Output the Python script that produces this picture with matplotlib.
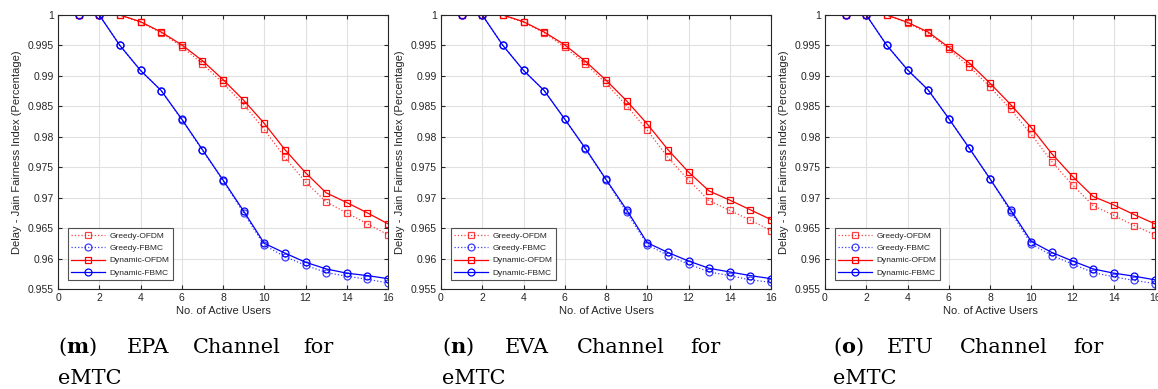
import matplotlib
matplotlib.use("Agg")
import matplotlib.pyplot as plt
import numpy as np

plt.rcParams['mathtext.fontset'] = 'dejavuserif'

users = list(range(1, 17))
series_names = ["Greedy-OFDM", "Greedy-FBMC", "Dynamic-OFDM", "Dynamic-FBMC"]

# EPA channel
epa_greedy_ofdm = [1, 1, 1, 0.9988, 0.9971, 0.9948, 0.9920, 0.9888, 0.9853, 0.9812, 0.9766, 0.9726, 0.9693, 0.9675, 0.9657, 0.9639]
epa_greedy_fbmc = [1, 1, 0.9950, 0.9909, 0.9876, 0.9828, 0.9778, 0.9728, 0.9675, 0.9622, 0.9603, 0.9589, 0.9577, 0.9571, 0.9566, 0.9560]
epa_dynamic_ofdm = [1, 1, 1, 0.9989, 0.9972, 0.9951, 0.9925, 0.9894, 0.9860, 0.9822, 0.9779, 0.9741, 0.9708, 0.9692, 0.9675, 0.9657]
epa_dynamic_fbmc = [1, 1, 0.9950, 0.9909, 0.9876, 0.9829, 0.9779, 0.9729, 0.9678, 0.9625, 0.9609, 0.9594, 0.9583, 0.9576, 0.9572, 0.9567]

# EVA channel
eva_greedy_ofdm = [1, 1, 1, 0.9988, 0.9971, 0.9947, 0.9920, 0.9888, 0.9851, 0.9811, 0.9766, 0.9729, 0.9695, 0.9679, 0.9663, 0.9646]
eva_greedy_fbmc = [1, 1, 0.9950, 0.9909, 0.9876, 0.9829, 0.9780, 0.9729, 0.9676, 0.9623, 0.9605, 0.9591, 0.9578, 0.9572, 0.9565, 0.9561]
eva_dynamic_ofdm = [1, 1, 1, 0.9989, 0.9972, 0.9951, 0.9924, 0.9893, 0.9859, 0.9821, 0.9779, 0.9742, 0.9711, 0.9696, 0.9680, 0.9664]
eva_dynamic_fbmc = [1, 1, 0.9950, 0.9909, 0.9876, 0.9829, 0.9781, 0.9730, 0.9680, 0.9626, 0.9610, 0.9596, 0.9584, 0.9578, 0.9572, 0.9567]

# ETU channel
etu_greedy_ofdm = [1, 1, 1, 0.9987, 0.9970, 0.9944, 0.9915, 0.9882, 0.9845, 0.9804, 0.9759, 0.9721, 0.9687, 0.9671, 0.9654, 0.9639]
etu_greedy_fbmc = [1, 1, 0.9950, 0.9910, 0.9877, 0.9830, 0.9781, 0.9731, 0.9677, 0.9624, 0.9605, 0.9591, 0.9577, 0.9570, 0.9564, 0.9559]
etu_dynamic_ofdm = [1, 1, 1, 0.9988, 0.9972, 0.9947, 0.9921, 0.9888, 0.9853, 0.9815, 0.9772, 0.9735, 0.9702, 0.9688, 0.9672, 0.9657]
etu_dynamic_fbmc = [1, 1, 0.9950, 0.9910, 0.9877, 0.9830, 0.9781, 0.9731, 0.9680, 0.9628, 0.9610, 0.9596, 0.9583, 0.9576, 0.9571, 0.9565]

x_ticks = [0, 2, 4, 6, 8, 10, 12, 14, 16]
y_ticks = [0.955, 0.96, 0.965, 0.97, 0.975, 0.98, 0.985, 0.99, 0.995, 1.0]
y_tick_labels = ["0.955", "0.96", "0.965", "0.97", "0.975", "0.98", "0.985", "0.99", "0.995", "1"]

x_label = "No. of Active Users"
y_label = "Delay - Jain Fairness Index (Percentage)"

caption_letters = ["m", "n", "o"]
caption_channels = ["EPA", "EVA", "ETU"]

panels = [
    (epa_greedy_ofdm, epa_greedy_fbmc, epa_dynamic_ofdm, epa_dynamic_fbmc),
    (eva_greedy_ofdm, eva_greedy_fbmc, eva_dynamic_ofdm, eva_dynamic_fbmc),
    (etu_greedy_ofdm, etu_greedy_fbmc, etu_dynamic_ofdm, etu_dynamic_fbmc),
]

W, H = 1158, 389
fig = plt.figure(figsize=(W / 100, H / 100), dpi=100)

ax_left_px = [58, 441, 825]
ax_width_px = 330
ax_top_px, ax_bot_px = 15, 289

# caption word x-positions (pixels)
cap_x = [
    [58, 127, 193, 303],
    [442, 505, 577, 690],
    [833, 887, 960, 1073],
]

txt_col = "#262626"
sans = "Liberation Sans"

styles = [
    dict(color="#ff0000", ls=":", marker="s", ms=4.0),
    dict(color="#0000ff", ls=":", marker="o", ms=5.0),
    dict(color="#ff0000", ls="-", marker="s", ms=4.0),
    dict(color="#0000ff", ls="-", marker="o", ms=5.0),
]

for i, data in enumerate(panels):
    ax = fig.add_axes([ax_left_px[i] / W, 1 - ax_bot_px / H,
                       ax_width_px / W, (ax_bot_px - ax_top_px) / H])
    for name, ys, st in zip(series_names, data, styles):
        ax.plot(users, ys, color=st["color"], linestyle=st["ls"], linewidth=0.9,
                marker=st["marker"], markersize=st["ms"], markerfacecolor="none",
                markeredgecolor=st["color"], markeredgewidth=0.9, label=name,
                alpha=0.75 if st["ls"] == ":" else 1.0)
    ax.set_xlim(0, 16)
    ax.set_ylim(0.955, 1.0)
    ax.set_xticks(x_ticks)
    ax.set_xticklabels([str(t) for t in x_ticks])
    ax.set_yticks(y_ticks)
    ax.set_yticklabels(y_tick_labels)
    ax.grid(True, color="#e0e0e0", linewidth=0.8)
    ax.set_axisbelow(True)
    ax.tick_params(direction="in", length=3, width=0.8, colors=txt_col,
                   labelsize=7.5, top=True, right=True, pad=3)
    for lab in ax.get_xticklabels() + ax.get_yticklabels():
        lab.set_fontfamily(sans)
    for sp in ax.spines.values():
        sp.set_color(txt_col)
        sp.set_linewidth(0.8)
    ax.set_xlabel(x_label, fontsize=8, color=txt_col, family=sans, labelpad=2)
    ax.set_ylabel(y_label, fontsize=8, color=txt_col, family=sans, labelpad=4)
    leg = ax.legend(loc="lower left", bbox_to_anchor=(0.03, 0.032),
                    prop={"family": sans, "size": 6.0}, frameon=True, fancybox=False,
                    handlelength=4.0, handletextpad=0.6, borderpad=0.4,
                    labelspacing=0.55, borderaxespad=0)
    leg.get_frame().set_edgecolor(txt_col)
    leg.get_frame().set_linewidth(0.8)
    for t in leg.get_texts():
        t.set_color(txt_col)

    # caption
    words = [r"($\mathbf{%s}$)" % caption_letters[i], caption_channels[i], "Channel", "for"]
    for wx, wtxt in zip(cap_x[i], words):
        fig.text(wx / W, 1 - 353 / H, wtxt, fontsize=15, family="DejaVu Serif",
                 ha="left", va="baseline", color="black")
    fig.text(cap_x[i][0] / W, 1 - 384 / H, "eMTC", fontsize=15, family="DejaVu Serif",
             ha="left", va="baseline", color="black")

fig.savefig("out.png", dpi=100)
